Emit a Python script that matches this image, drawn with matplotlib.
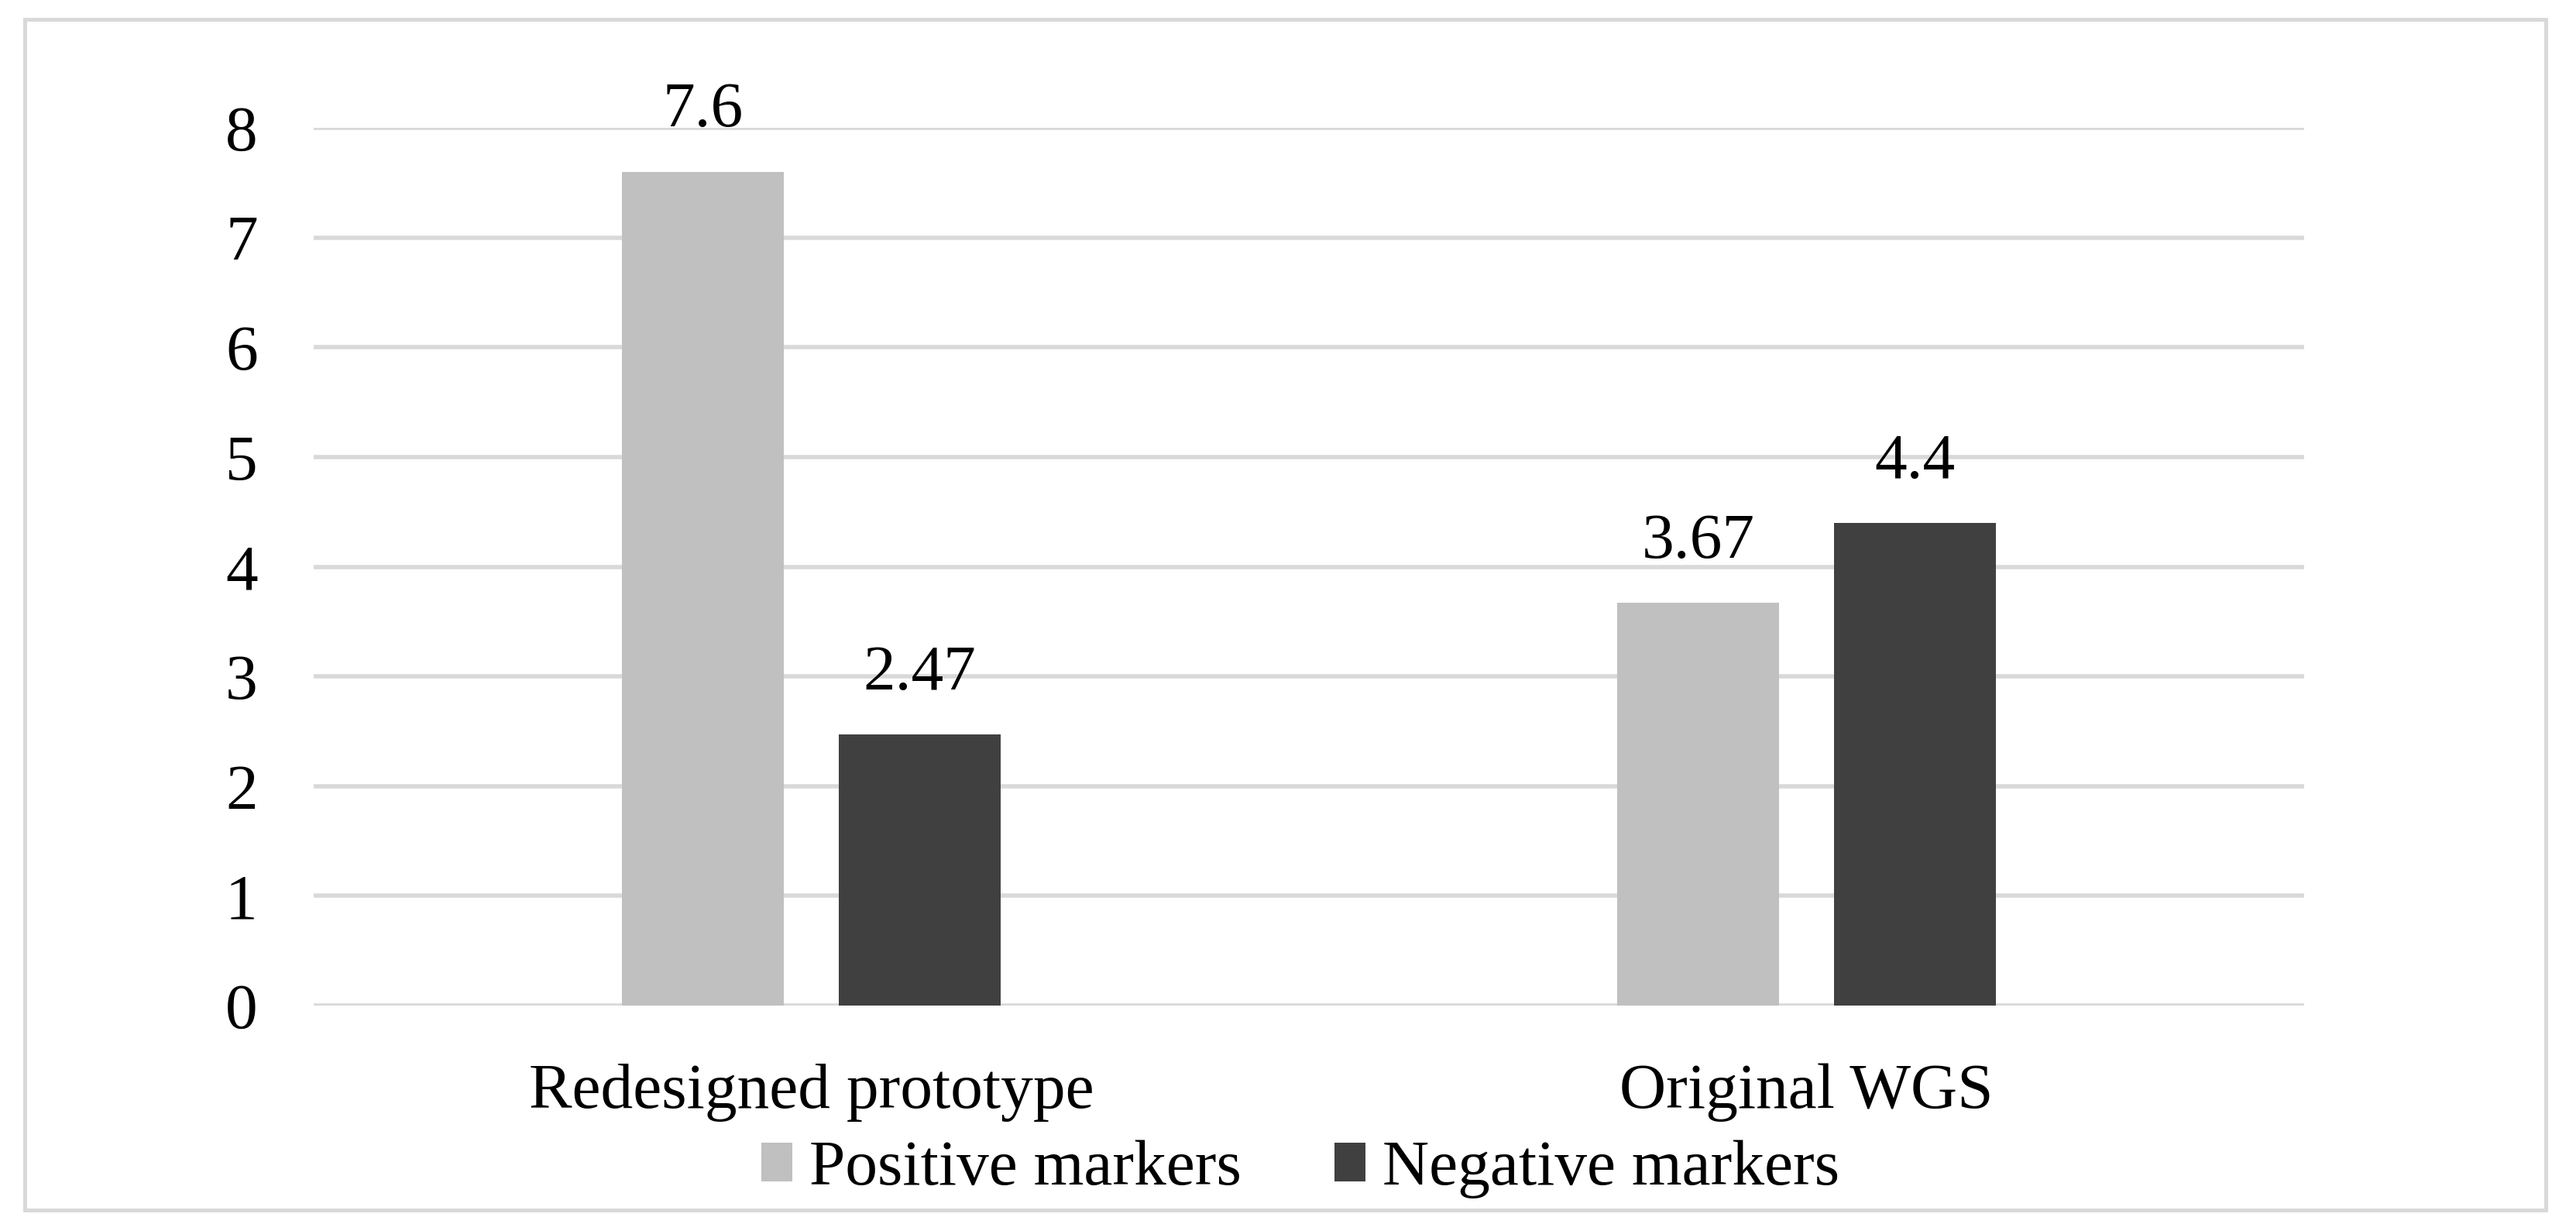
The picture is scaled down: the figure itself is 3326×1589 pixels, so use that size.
"""
Bar chart: positive vs negative markers for the redesigned prototype and the original WGS.
"""

import matplotlib

matplotlib.use("Agg")
import matplotlib.pyplot as plt
from matplotlib.patches import Rectangle

categories = ["Redesigned prototype", "Original WGS"]
positive = [7.6, 3.67]
negative = [2.47, 4.4]
series_names = ["Positive markers", "Negative markers"]
y_ticks = [0, 1, 2, 3, 4, 5, 6, 7, 8]

plt.rcParams["font.family"] = ["Liberation Serif", "DejaVu Serif"]

W, H, DPI = 3326, 1589, 200
fig = plt.figure(figsize=(W / DPI, H / DPI), dpi=DPI)

# light grey frame around the whole chart
fig.patches.append(
    Rectangle((32 / W, 27 / H), (3287 - 32) / W, (1562 - 25) / H,
              transform=fig.transFigure, fill=False, edgecolor="#D9D9D9", linewidth=1.8)
)

ax = fig.add_axes([405 / W, 291 / H, 2570 / W, 1133 / H])

xs = list(range(len(categories)))
width = 0.163
off = 0.109
colors = ["#BFC0BF", "#404040"]

for vals, sign, col, name in zip([positive, negative], [-1, 1], colors, series_names):
    pos = [x + sign * off for x in xs]
    bars = ax.bar(pos, vals, width=width, color=col, label=name, zorder=3)
    for b, v in zip(bars, vals):
        ax.annotate(f"{v:g}", (b.get_x() + b.get_width() / 2, v), xytext=(0, 21),
                    textcoords="offset points", ha="center", va="baseline",
                    fontsize=30, color="#000000", annotation_clip=False)

ax.set_xlim(-0.5, 1.5)
ax.set_ylim(0, 8)
ax.set_yticks(y_ticks)
ax.set_yticklabels([str(t) for t in y_ticks])
ax.set_xticks(xs)
ax.set_xticklabels(categories)
ax.tick_params(axis="y", length=0, pad=26, labelsize=30)
ax.tick_params(axis="x", length=0, pad=27, labelsize=30)
ax.yaxis.grid(True, color="#D9D9D9", linewidth=2.0, zorder=0)
ax.set_axisbelow(True)
for s in ax.spines.values():
    s.set_visible(False)

fig.legend(loc="center", bbox_to_anchor=(1679 / W, 0.05), ncol=2, frameon=False,
           fontsize=30, handlelength=0.48, handleheight=0.54, handletextpad=0.26,
           columnspacing=1.45)

fig.savefig("out.png", dpi=DPI, facecolor="white")
